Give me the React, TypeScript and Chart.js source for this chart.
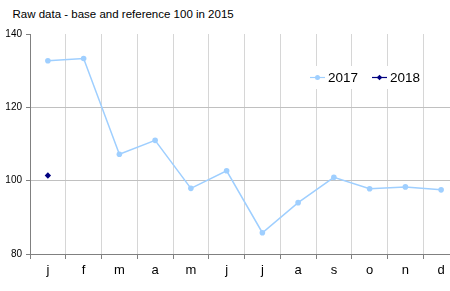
import React, { useEffect, useRef } from "react";
import { Chart, registerables } from "chart.js";

Chart.register(...registerables);

const categories = ["j", "f", "m", "a", "m", "j", "j", "a", "s", "o", "n", "d"];
const series2017 = [132.7, 133.3, 107.2, 111.0, 97.9, 102.7, 85.8, 94.0, 100.9, 97.8, 98.3, 97.5];
const series2018 = [101.4, null, null, null, null, null, null, null, null, null, null, null];
const yMin = 80;
const yMax = 140;
const yStep = 20;
const titleText = "Raw data - base and reference 100 in 2015";

const COLOR_2017 = "#9fcfff";
const COLOR_2018 = "#000080";

const legendPlugin = {
  id: "insideLegend",
  afterDatasetsDraw(chart: any) {
    const ctx = chart.ctx;
    ctx.save();
    ctx.fillStyle = "#ffffff";
    ctx.fillRect(303, 66, 117, 23);
    ctx.font = "13.5px 'Liberation Sans', Arial, sans-serif";
    ctx.textBaseline = "middle";
    ctx.textAlign = "left";
    const items = [
      { x: 310, ds: chart.data.datasets[0] },
      { x: 372, ds: chart.data.datasets[1] },
    ];
    const y = 77.5;
    for (const it of items) {
      const ds = it.ds;
      ctx.strokeStyle = ds.borderColor;
      ctx.lineWidth = 1.2;
      ctx.beginPath();
      ctx.moveTo(it.x, y);
      ctx.lineTo(it.x + 15, y);
      ctx.stroke();
      ctx.fillStyle = ds.pointBackgroundColor;
      ctx.beginPath();
      if (ds.pointStyle === "rectRot") {
        const r = 2.8;
        ctx.moveTo(it.x + 7.5, y - r);
        ctx.lineTo(it.x + 7.5 + r, y);
        ctx.lineTo(it.x + 7.5, y + r);
        ctx.lineTo(it.x + 7.5 - r, y);
        ctx.closePath();
      } else {
        ctx.arc(it.x + 7.5, y, 2.5, 0, Math.PI * 2);
      }
      ctx.fill();
      ctx.fillStyle = "#000000";
      ctx.fillText(ds.label, it.x + 18, y + 0.5);
    }
    ctx.restore();
  },
};

export default function App() {
  const canvasRef = useRef<HTMLCanvasElement | null>(null);

  useEffect(() => {
    const canvas = canvasRef.current;
    if (!canvas) return;
    const chart = new Chart(canvas, {
      type: "line",
      data: {
        labels: categories,
        datasets: [
          {
            label: "2017",
            data: series2017,
            borderColor: COLOR_2017,
            backgroundColor: COLOR_2017,
            pointBackgroundColor: COLOR_2017,
            pointBorderColor: COLOR_2017,
            pointRadius: 2.8,
            pointBorderWidth: 0,
            borderWidth: 1.5,
            pointStyle: "circle",
            tension: 0,
          },
          {
            label: "2018",
            data: series2018,
            borderColor: COLOR_2018,
            backgroundColor: COLOR_2018,
            pointBackgroundColor: COLOR_2018,
            pointBorderColor: COLOR_2018,
            pointRadius: 3.2,
            pointBorderWidth: 0,
            borderWidth: 1.5,
            pointStyle: "rectRot",
            tension: 0,
          },
        ],
      },
      options: {
        animation: false,
        responsive: false,
        maintainAspectRatio: false,
        layout: { padding: { top: 34, left: 0, right: 0, bottom: 0 } },
        plugins: {
          legend: { display: false },
          title: { display: false },
          tooltip: { enabled: false },
        },
        scales: {
          x: {
            type: "category",
            offset: true,
            afterFit(scale: any) {
              scale.height = 37;
            },
            grid: {
              offset: true,
              display: true,
              color: "#d6d6d6",
              tickColor: "#808080",
              tickLength: 5,
              lineWidth: 1,
            },
            border: { display: true, color: "#808080", width: 1 },
            ticks: {
              color: "#000000",
              padding: 4,
              maxRotation: 0,
              autoSkip: false,
              font: { family: "'Liberation Sans', Arial, sans-serif", size: 13 },
            },
          },
          y: {
            min: yMin,
            max: yMax,
            afterFit(scale: any) {
              scale.width = 30;
            },
            grid: {
              color: (c: any) =>
                c.tick && (c.tick.value === yMin || c.tick.value === yMax) ? "rgba(0,0,0,0)" : "#c0c0c0",
              tickColor: "#808080",
              tickLength: 4,
              lineWidth: 1,
            },
            border: { display: true, color: "#808080", width: 1 },
            ticks: {
              stepSize: yStep,
              color: "#000000",
              padding: 4,
              font: { family: "'Liberation Sans', Arial, sans-serif", size: 10 },
            },
          },
        },
      },
      plugins: [legendPlugin],
    });
    return () => chart.destroy();
  }, []);

  return (
    <div
      style={{
        position: "absolute",
        left: 0,
        top: 0,
        width: 450,
        height: 291,
        overflow: "hidden",
        background: "#ffffff",
      }}
    >
      <div
        style={{
          position: "absolute",
          left: 12.5,
          top: 6.5,
          fontFamily: "'Liberation Sans', Arial, sans-serif",
          fontSize: 11.5,
          lineHeight: "14px",
          color: "#000000",
          whiteSpace: "nowrap",
        }}
      >
        {titleText}
      </div>
      <canvas
        ref={canvasRef}
        width={463}
        height={291}
        style={{ position: "absolute", left: 0, top: 0, width: 463, height: 291 }}
      />
    </div>
  );
}
